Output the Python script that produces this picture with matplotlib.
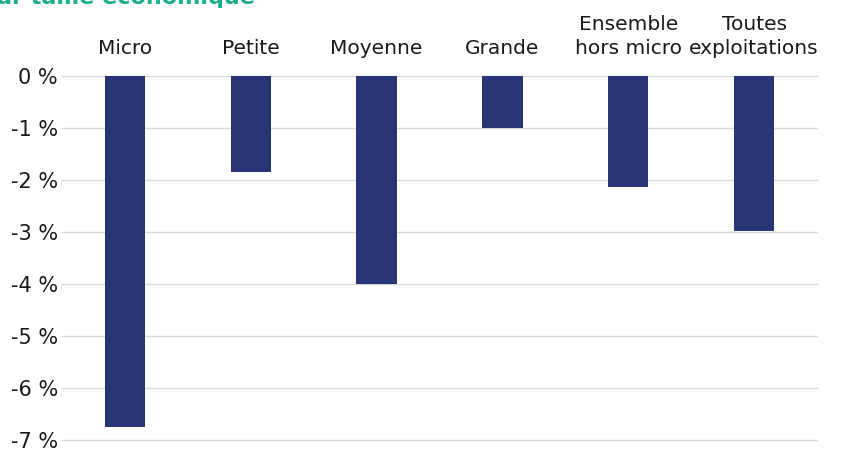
import matplotlib.pyplot as plt
import numpy as np

categories = ["Micro", "Petite", "Moyenne", "Grande", "Ensemble\nhors micro", "Toutes\nexploitations"]
values = [-6.75, -1.85, -4.0, -1.0, -2.13, -2.98]
yticks = [0, -1, -2, -3, -4, -5, -6, -7]

plt.rcParams['font.family'] = ['DejaVu Sans']

fig = plt.figure(figsize=(8.51, 4.51), dpi=100)
ax = fig.add_axes([62/851, 1 - 440/451, 755/851, 364/451])

x = np.arange(len(categories))
ax.bar(x, values, width=0.32, color="#283574", zorder=3)

ax.set_xlim(-0.5, len(categories) - 0.5)
ax.set_ylim(-7, 0)
ax.set_yticks(yticks)
ax.set_yticklabels([f"{v} %" for v in yticks], fontsize=15, color="#1a1a1a")
ax.yaxis.grid(True, color="#d9d9d9", linewidth=1, zorder=0)
for gl in ax.get_ygridlines():
    gl.set_clip_on(False)
ax.set_axisbelow(True)

ax.xaxis.tick_top()
ax.set_xticks(x)
ax.set_xticklabels(categories, fontsize=14.5, color="#1a1a1a", linespacing=1.3)
ax.tick_params(axis="both", length=0)
ax.tick_params(axis="x", pad=13)
ax.tick_params(axis="y", pad=3)

for s in ax.spines.values():
    s.set_visible(False)

# titre coupé en haut de l'image
fig.text(-0.004, 1 - 4/451, "ar taille économique", fontsize=16, fontweight="bold",
         color="#1aae8c", va="baseline", ha="left")

fig.savefig("out.png", dpi=100)
